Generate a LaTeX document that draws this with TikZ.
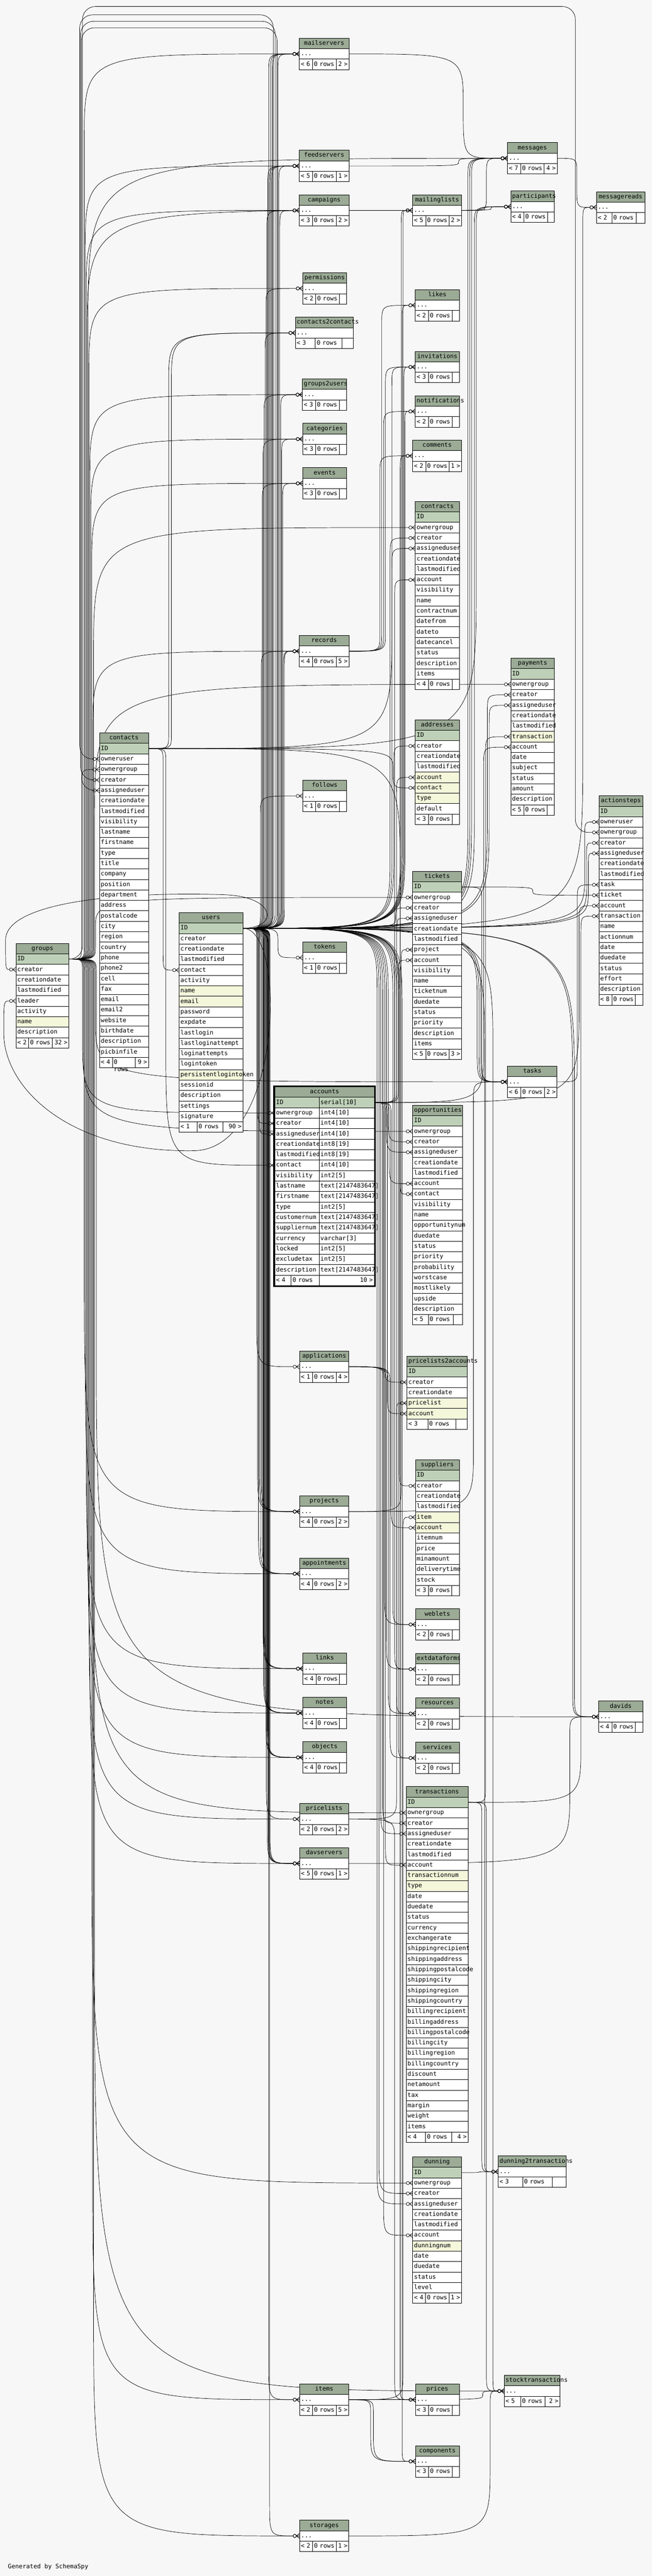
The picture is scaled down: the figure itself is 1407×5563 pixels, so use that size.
\documentclass[tikz,border=0pt]{standalone}
\usepackage{fontspec}
\usepackage{tikz}
\usetikzlibrary{positioning,calc,arrows.meta}

\newfontfamily\dbfont{DejaVu Sans Mono}
\newcommand\dbfnt{\dbfont\fontsize{13.1pt}{15pt}\selectfont}
\definecolor{bgc}{HTML}{F7F7F7}
\definecolor{headc}{HTML}{9BAB96}
\definecolor{pkc}{HTML}{BED1B8}
\definecolor{idxc}{HTML}{F4F7DA}
\def\rowh{22.6}

\pgfdeclarelayer{bgl}
\pgfdeclarelayer{edges}
\pgfsetlayers{bgl,edges,main}

% crow foot with open dot, tip at the table side
\pgfdeclarearrow{
  name = crowodot,
  parameters = {\the\pgfarrowlinewidth},
  setup code = {
    \pgfarrowssettipend{0pt}
    \pgfarrowssetlineend{-14pt}
    \pgfarrowssetbackend{-14pt}
    \pgfarrowshullpoint{0pt}{5pt}
    \pgfarrowshullpoint{0pt}{-5pt}
    \pgfarrowshullpoint{-14pt}{3.5pt}
    \pgfarrowshullpoint{-14pt}{-3.5pt}
  },
  drawing code = {
    \pgfpathmoveto{\pgfpoint{0pt}{5pt}}
    \pgfpathlineto{\pgfpoint{-7pt}{0pt}}
    \pgfpathlineto{\pgfpoint{0pt}{-5pt}}
    \pgfpathmoveto{\pgfpoint{0pt}{0pt}}
    \pgfpathlineto{\pgfpoint{-7pt}{0pt}}
    \pgfpathcircle{\pgfpoint{-10.5pt}{0pt}}{3.5pt}
    \pgfusepathqstroke
  }
}

\tikzset{
  tabcell/.style={draw,fill=white,anchor=north west,minimum height=\rowh pt,inner xsep=3pt,inner ysep=0pt,outer sep=0pt,align=left,font=\dbfnt,line width=0.9pt,text height=9.5pt,text depth=2.5pt},
  tabhead/.style={tabcell,fill=headc,align=center},
  pk/.style={fill=pkc},
  ix/.style={fill=idxc},
  cn/.style={},
  fk/.style={line width=0.8pt,-crowodot}
}

% footer: name, x, y, width, parents, children, cell a, cell b
\newcommand\dbfoot[8]{%
  \pgfmathsetmacro\fwa{#7-6}\pgfmathsetmacro\fwb{#8-6}\pgfmathsetmacro\fwc{#4-#7-#8-6}%
  \node[tabcell,text width=\fwa pt] (#1-prev) at (#2,{#3}) {< #5};
  \node[tabcell,text width=\fwb pt] (#1-rows) at ({#2+#7},{#3}) {0 rows};
  \node[tabcell,text width=\fwc pt,align=right] (#1-next) at ({#2+#7+#8},{#3}) {\ifx\relax#6\relax\else#6 >\fi};}

% full table: name, x, y, width, rows, parents, children, {a}{b}
\newcommand\dbtable[8]{%
  \pgfmathsetmacro\tw{#4-6}%
  \node[tabhead,text width=\tw pt] (#1) at (#2,#3) {#1};
  \foreach \rn/\rs [count=\ri] in {#5}{%
    \node[tabcell,\rs,text width=\tw pt] (#1-\rn) at (#2,{#3+\ri*\rowh}) {\rn};
    \xdef\lastrow{\ri}}%
  \dbfoot{#1}{#2}{#3+(\lastrow+1)*\rowh}{#4}{#6}{#7}#8}

% collapsed table: name, x, y, width, parents, children, {a}{b}
\newcommand\dbmini[7]{%
  \pgfmathsetmacro\tw{#4-6}%
  \node[tabhead,text width=\tw pt] (#1) at (#2,#3) {#1};
  \node[tabcell,text width=\tw pt] (#1-x) at (#2,{#3+\rowh}) {...};
  \dbfoot{#1}{#2}{#3+2*\rowh}{#4}{#5}{#6}#7}

% foreign key: parent row, child row, x of the vertical run
\newcommand\fk[3]{%
  \draw[fk] let \p1=(#1.east), \p2=(#2.west),
    \n1={ifthenelse(\y2>\y1,1,-1)}, \n3={abs(\y2-(\y1))/2},
    \n4={min(max(30,0.5*abs(#3-(\x1))),\n3)},
    \n2={min(max(40,ifthenelse(\y2>\y1,0.4,1.1)*abs(\x2-(#3))),\n3)} in
    (\p1) .. controls (#3pt,\y1) .. (#3pt,{\y1+(\n1)*(\n4)})
    -- (#3pt,{\y2-(\n1)*(\n2)}) .. controls (#3pt,\y2) .. (\p2);}

% foreign key routed over the top: parent, child, x up, y top, x down
\newcommand\fkvia[5]{%
  \draw[fk,rounded corners=28pt] let \p1=(#1.east), \p2=(#2.west) in
    (\p1) -- (#3pt,\y1) -- (#3pt,-#4pt) -- (#5pt,-#4pt) -- (#5pt,\y2) -- (\p2);}

\begin{document}
\begin{tikzpicture}[x=1pt,y=-1pt]
\useasboundingbox (0,0) rectangle (1407,5563);
\begin{pgfonlayer}{bgl}
  \fill[bgc] (0,0) rectangle (1407,5563);
\end{pgfonlayer}

% left side
\dbtable{groups}{34.4}{2037.3}{114.3}{ID/pk,creator/cn,creationdate/cn,lastmodified/cn,leader/cn,activity/cn,name/ix,description/cn}{2}{32}{{27.6}{51}}
\dbtable{contacts}{214.7}{1582.7}{105.8}{ID/pk,owneruser/cn,ownergroup/cn,creator/cn,assigneduser/cn,creationdate/cn,lastmodified/cn,visibility/cn,lastname/cn,firstname/cn,type/cn,title/cn,company/cn,position/cn,department/cn,address/cn,postalcode/cn,city/cn,region/cn,country/cn,phone/cn,phone2/cn,cell/cn,fax/cn,email/cn,email2/cn,website/cn,birthdate/cn,description/cn,picbinfile/cn}{4}{9}{{28}{49.6}}
\dbtable{users}{386.6}{1970.7}{137.9}{ID/pk,creator/cn,creationdate/cn,lastmodified/cn,contact/cn,activity/cn,name/ix,email/ix,password/cn,expdate/cn,lastlogin/cn,lastloginattempt/cn,loginattempts/cn,logintoken/cn,persistentlogintoken/ix,sessionid/cn,description/cn,settings/cn,signature/cn}{1}{90}{{38.8}{55.8}}

% accounts
\node[tabhead,text width=209pt] (accounts) at (593,2347) {accounts};
\foreach \rn/\rt/\rs [count=\ri] in {ID/serial[10]/pk,ownergroup/int4[10]/cn,creator/int4[10]/cn,assigneduser/int4[10]/cn,creationdate/int8[19]/cn,lastmodified/int8[19]/cn,contact/int4[10]/cn,visibility/int2[5]/cn,lastname/text[2147483647]/cn,firstname/text[2147483647]/cn,type/int2[5]/cn,customernum/text[2147483647]/cn,suppliernum/text[2147483647]/cn,currency/varchar[3]/cn,locked/int2[5]/cn,excludetax/int2[5]/cn,description/text[2147483647]/cn}{%
  \node[tabcell,\rs,text width=89.7pt] (accounts-\rn) at (593,{2347+\ri*\rowh}) {\rn};
  \node[tabcell,\rs,text width=113.3pt] (accounts-\rn-t) at (688.7,{2347+\ri*\rowh}) {\rt};}
\dbfoot{accounts}{593}{2347+18*\rowh}{215}{4}{10}{35.4}{60.3}
\draw[line width=3pt] ([xshift=-1.5pt,yshift=1.5pt]accounts.north west) rectangle ([xshift=1.5pt,yshift=-1.5pt]accounts-next.south east);

% first column
\dbmini{mailservers}{646.2}{82.6}{107.1}{6}{2}{{28.4}{50.8}}
\dbmini{feedservers}{646.2}{324.5}{107.1}{5}{1}{{28.4}{50.8}}
\dbmini{campaigns}{646.2}{420.5}{107.1}{3}{2}{{28.4}{50.8}}
\dbmini{permissions}{653.3}{589}{95.1}{2}{}{{28.4}{50.8}}
\dbmini{contacts2contacts}{637.5}{685}{125.1}{3}{}{{43.2}{57.9}}
\dbmini{groups2users}{652.8}{818.4}{95.6}{3}{}{{28.4}{50.8}}
\dbmini{categories}{653.3}{914.3}{95.1}{3}{}{{28.4}{50.8}}
\dbmini{events}{653.3}{1010}{95.1}{3}{}{{28.4}{50.8}}
\dbmini{records}{646.2}{1372.4}{107.1}{4}{5}{{28.4}{50.8}}
\dbmini{follows}{653.3}{1685}{95.1}{1}{}{{28.4}{50.8}}
\dbmini{tokens}{653.3}{2034.3}{95.1}{1}{}{{28.4}{50.8}}
\dbmini{applications}{646.7}{2917.6}{106.4}{1}{4}{{28.4}{50.8}}
\dbmini{projects}{646.7}{3230.4}{106.4}{4}{2}{{28.4}{50.8}}
\dbmini{appointments}{646.7}{3364.7}{106.4}{4}{2}{{28.4}{50.8}}
\dbmini{links}{653.8}{3569.6}{94.6}{4}{}{{28.4}{50.8}}
\dbmini{notes}{653.8}{3665.5}{94.6}{4}{}{{28.4}{50.8}}
\dbmini{objects}{653.8}{3761.3}{94.6}{4}{}{{28.4}{50.8}}
\dbmini{pricelists}{646.7}{3894.5}{106.4}{2}{2}{{28.4}{50.8}}
\dbmini{davservers}{646.7}{3990.3}{106.4}{5}{1}{{28.4}{50.8}}
\dbmini{items}{646.7}{5148.3}{106.4}{2}{5}{{28.4}{50.8}}
\dbmini{storages}{646.7}{5442.5}{106.4}{2}{1}{{28.4}{50.8}}

% second column
\dbmini{mailinglists}{890.5}{420.5}{106.1}{5}{2}{{28.4}{50.8}}
\dbmini{likes}{896.5}{625.4}{95.2}{2}{}{{28.4}{50.8}}
\dbmini{invitations}{896.5}{758.7}{95.2}{3}{}{{28.4}{50.8}}
\dbmini{notifications}{896.5}{854.6}{95.2}{2}{}{{28.4}{50.8}}
\dbmini{comments}{890.5}{950.5}{106.1}{2}{1}{{28.4}{50.8}}
\dbtable{contracts}{896.5}{1082.7}{95.2}{ID/pk,ownergroup/cn,creator/cn,assigneduser/cn,creationdate/cn,lastmodified/cn,account/cn,visibility/cn,name/cn,contractnum/cn,datefrom/cn,dateto/cn,datecancel/cn,status/cn,description/cn,items/cn}{4}{}{{28.4}{50.8}}
\dbtable{addresses}{896.5}{1554.5}{95.2}{ID/pk,creator/cn,creationdate/cn,lastmodified/cn,account/ix,contact/ix,type/ix,default/cn}{3}{}{{28.4}{50.8}}
\dbtable{tickets}{890.5}{1881.6}{106.1}{ID/pk,ownergroup/cn,creator/cn,assigneduser/cn,creationdate/cn,lastmodified/cn,project/cn,account/cn,visibility/cn,name/cn,ticketnum/cn,duedate/cn,status/cn,priority/cn,description/cn,items/cn}{5}{3}{{28.4}{50.3}}
\dbtable{opportunities}{890.9}{2386.7}{107.6}{ID/pk,ownergroup/cn,creator/cn,assigneduser/cn,creationdate/cn,lastmodified/cn,account/cn,contact/cn,visibility/cn,name/cn,opportunitynum/cn,duedate/cn,status/cn,priority/cn,probability/cn,worstcase/cn,mostlikely/cn,upside/cn,description/cn}{5}{}{{33.7}{53.8}}
\dbtable{pricelists2accounts}{878.5}{2928.5}{129.5}{ID/pk,creator/cn,creationdate/cn,pricelist/ix,account/ix}{3}{}{{44.9}{60.3}}
\dbtable{suppliers}{896.8}{3152.3}{94.6}{ID/pk,creator/cn,creationdate/cn,lastmodified/cn,item/ix,account/ix,itemnum/cn,price/cn,minamount/cn,deliverytime/cn,stock/cn}{3}{}{{27.8}{50.8}}
\dbmini{weblets}{896.8}{3474.3}{94.6}{2}{}{{28.4}{50.8}}
\dbmini{extdataforms}{896.8}{3570.7}{94.6}{2}{}{{28.4}{50.8}}
\dbmini{resources}{896.8}{3666.6}{94.6}{2}{}{{28.4}{50.8}}
\dbmini{services}{896.8}{3762.5}{94.6}{2}{}{{28.4}{50.8}}
\dbtable{transactions}{876.7}{3858.3}{133.6}{ID/pk,ownergroup/cn,creator/cn,assigneduser/cn,creationdate/cn,lastmodified/cn,account/cn,transactionnum/ix,type/ix,date/cn,duedate/cn,status/cn,currency/cn,exchangerate/cn,shippingrecipient/cn,shippingaddress/cn,shippingpostalcode/cn,shippingcity/cn,shippingregion/cn,shippingcountry/cn,billingrecipient/cn,billingaddress/cn,billingpostalcode/cn,billingcity/cn,billingregion/cn,billingcountry/cn,discount/cn,netamount/cn,tax/cn,margin/cn,weight/cn,items/cn}{4}{4}{{42}{56.8}}
\dbtable{dunning}{890.9}{4657.8}{105.2}{ID/pk,ownergroup/cn,creator/cn,assigneduser/cn,creationdate/cn,lastmodified/cn,account/cn,dunningnum/ix,date/cn,duedate/cn,status/cn,level/cn}{4}{1}{{27.8}{50.3}}
\dbmini{prices}{896.8}{5148.3}{94.6}{3}{}{{28.4}{50.8}}
\dbmini{components}{896.8}{5281.5}{94.6}{3}{}{{28.4}{50.8}}

% third and fourth column
\dbmini{messages}{1095.5}{308}{107.1}{7}{4}{{28.4}{50.8}}
\dbmini{participants}{1102.6}{412.5}{94}{4}{}{{28.4}{50.8}}
\dbtable{payments}{1102.6}{1421.4}{94}{ID/pk,ownergroup/cn,creator/cn,assigneduser/cn,creationdate/cn,lastmodified/cn,transaction/ix,account/cn,date/cn,subject/cn,status/cn,amount/cn,description/cn}{5}{}{{28}{50.8}}
\dbmini{tasks}{1095.5}{2302.4}{107}{6}{2}{{29}{50.3}}
\dbmini{dunning2transactions}{1075.3}{4656}{147.2}{3}{}{{53.2}{63.9}}
\dbmini{stocktransactions}{1088.3}{5129.6}{120.1}{5}{2}{{35.5}{53.2}}
\dbmini{messagereads}{1287.4}{414}{104.4}{2}{}{{33.3}{53}}
\dbtable{actionsteps}{1292.8}{1718.6}{94.6}{ID/pk,owneruser/cn,ownergroup/cn,creator/cn,assigneduser/cn,creationdate/cn,lastmodified/cn,task/cn,ticket/cn,account/cn,transaction/cn,name/cn,actionnum/cn,date/cn,duedate/cn,status/cn,effort/cn,description/cn}{8}{}{{28}{50.8}}
\dbmini{davids}{1292.3}{3673.5}{95.2}{4}{}{{28.4}{50.8}}

\node[anchor=west,font=\dbfnt,inner sep=0pt] (credit) at (17,5543) {Generated by SchemaSpy};

\begin{pgfonlayer}{edges}
% groups
\fk{groups-ID}{contacts-ownergroup}{176}
\fk{groups-ID}{accounts-ownergroup}{178}
\fk{groups-ID}{mailservers-x}{182}
\fk{groups-ID}{feedservers-x}{184}
\fk{groups-ID}{campaigns-x}{186}
\fk{groups-ID}{mailinglists-x}{188}
\fk{groups-ID}{messages-x}{190}
\fk{groups-ID}{permissions-x}{192}
\fk{groups-ID}{groups2users-x}{194}
\fk{groups-ID}{categories-x}{196}
\fk{groups-ID}{events-x}{198}
\fk{groups-ID}{records-x}{200}
\fk{groups-ID}{contracts-ownergroup}{202}
\fk{groups-ID}{payments-ownergroup}{204}
\fk{groups-ID}{tickets-ownergroup}{206}
\fk{groups-ID}{opportunities-ownergroup}{180}
\fk{groups-ID}{projects-x}{182}
\fk{groups-ID}{appointments-x}{184}
\fk{groups-ID}{links-x}{186}
\fk{groups-ID}{notes-x}{188}
\fk{groups-ID}{objects-x}{190}
\fk{groups-ID}{pricelists-x}{192}
\fk{groups-ID}{davservers-x}{194}
\fk{groups-ID}{transactions-ownergroup}{196}
\fk{groups-ID}{dunning-ownergroup}{198}
\fk{groups-ID}{items-x}{200}
\fk{groups-ID}{storages-x}{202}
\fk{groups-ID}{stocktransactions-x}{204}
\fk{groups-ID}{tasks-x}{206}
\fk{groups-ID}{davids-x}{208}
\fkvia{groups-ID}{actionsteps-ownergroup}{178}{14}{1242}
% users
\fkvia{users-ID}{contacts-owneruser}{590}{32}{172}
\fkvia{users-ID}{contacts-creator}{594}{46}{174}
\fkvia{users-ID}{contacts-assigneduser}{598}{60}{176}
\draw[fk] (users-ID.east) .. controls (600,2004.6) and (600,1935) .. (480,1932)
  .. controls (250,1925) and (12,1950) .. (12,2030) .. controls (12,2093.8) .. (groups-creator.west);
\draw[fk] (users-ID.east) .. controls (620,2004.6) and (610,2480) .. (420,2485)
  .. controls (150,2490) and (8,2350) .. (8,2230) .. controls (8,2161.6) .. (groups-leader.west);
\fk{users-ID}{accounts-creator}{556}
\fk{users-ID}{accounts-assigneduser}{560}
\fk{users-ID}{contracts-creator}{842}
\fk{users-ID}{contracts-assigneduser}{846}
\fk{users-ID}{addresses-creator}{850}
\fk{users-ID}{tickets-creator}{854}
\fk{users-ID}{tickets-assigneduser}{858}
\fk{users-ID}{opportunities-creator}{838}
\fk{users-ID}{opportunities-assigneduser}{834}
\fk{users-ID}{pricelists2accounts-creator}{830}
\fk{users-ID}{suppliers-creator}{862}
\fk{users-ID}{transactions-creator}{826}
\fk{users-ID}{transactions-assigneduser}{822}
\fk{users-ID}{dunning-creator}{818}
\fk{users-ID}{dunning-assigneduser}{814}
\fk{users-ID}{payments-creator}{1052}
\fk{users-ID}{payments-assigneduser}{1056}
\fk{users-ID}{actionsteps-owneruser}{1262}
\fk{users-ID}{actionsteps-creator}{1266}
\fk{users-ID}{actionsteps-assigneduser}{1270}
\fk{users-ID}{mailservers-x}{580}
\fk{users-ID}{mailservers-x}{584}
\fk{users-ID}{mailservers-x}{588}
\fk{users-ID}{mailservers-x}{600}
\fk{users-ID}{feedservers-x}{578}
\fk{users-ID}{feedservers-x}{582}
\fk{users-ID}{feedservers-x}{586}
\fk{users-ID}{feedservers-x}{602}
\fk{users-ID}{campaigns-x}{576}
\fk{users-ID}{campaigns-x}{604}
\fk{users-ID}{permissions-x}{574}
\fk{users-ID}{contacts2contacts-x}{572}
\fk{users-ID}{groups2users-x}{570}
\fk{users-ID}{groups2users-x}{606}
\fk{users-ID}{categories-x}{568}
\fk{users-ID}{categories-x}{608}
\fk{users-ID}{events-x}{566}
\fk{users-ID}{events-x}{610}
\fk{users-ID}{records-x}{564}
\fk{users-ID}{records-x}{612}
\fk{users-ID}{records-x}{614}
\fk{users-ID}{follows-x}{562}
\fk{users-ID}{tokens-x}{600}
\fk{users-ID}{mailinglists-x}{866}
\fk{users-ID}{mailinglists-x}{870}
\fk{users-ID}{likes-x}{868}
\fk{users-ID}{invitations-x}{872}
\fk{users-ID}{notifications-x}{874}
\fk{users-ID}{comments-x}{864}
\fk{users-ID}{messages-x}{1010}
\fk{users-ID}{messages-x}{1014}
\fk{users-ID}{messages-x}{1018}
\fk{users-ID}{participants-x}{1024}
\fk{users-ID}{messagereads-x}{1258}
\fk{users-ID}{tasks-x}{1030}
\fk{users-ID}{tasks-x}{1034}
\fk{users-ID}{tasks-x}{1038}
\fk{users-ID}{applications-x}{554}
\fk{users-ID}{projects-x}{556}
\fk{users-ID}{projects-x}{560}
\fk{users-ID}{projects-x}{564}
\fk{users-ID}{appointments-x}{558}
\fk{users-ID}{appointments-x}{562}
\fk{users-ID}{appointments-x}{566}
\fk{users-ID}{links-x}{568}
\fk{users-ID}{links-x}{570}
\fk{users-ID}{links-x}{572}
\fk{users-ID}{notes-x}{569}
\fk{users-ID}{notes-x}{571}
\fk{users-ID}{notes-x}{573}
\fk{users-ID}{objects-x}{574}
\fk{users-ID}{objects-x}{576}
\fk{users-ID}{objects-x}{578}
\fk{users-ID}{pricelists-x}{575}
\fk{users-ID}{davservers-x}{577}
\fk{users-ID}{davservers-x}{579}
\fk{users-ID}{davservers-x}{581}
\fk{users-ID}{davservers-x}{583}
\fk{users-ID}{items-x}{580}
\fk{users-ID}{storages-x}{582}
\fk{users-ID}{davids-x}{1236}
\fk{users-ID}{davids-x}{1240}
\fk{users-ID}{weblets-x}{848}
\fk{users-ID}{extdataforms-x}{852}
\fk{users-ID}{resources-x}{856}
\fk{users-ID}{services-x}{860}
\fk{users-ID}{prices-x}{864}
\fk{users-ID}{components-x}{868}
\fk{users-ID}{stocktransactions-x}{1064}
\fk{users-ID}{dunning2transactions-x}{1046}
% accounts
\fk{accounts-ID-t}{contracts-account}{852}
\fk{accounts-ID-t}{addresses-account}{856}
\fk{accounts-ID-t}{tickets-account}{860}
\fk{accounts-ID-t}{opportunities-account}{840}
\fk{accounts-ID-t}{pricelists2accounts-account}{836}
\fk{accounts-ID-t}{suppliers-account}{844}
\fk{accounts-ID-t}{transactions-account}{832}
\fk{accounts-ID-t}{dunning-account}{828}
\fk{accounts-ID-t}{payments-account}{1044}
\fk{accounts-ID-t}{actionsteps-account}{1250}
% contacts
\fk{contacts-ID}{users-contact}{352}
\fk{contacts-ID}{accounts-contact}{358}
\fk{contacts-ID}{addresses-contact}{848}
\fk{contacts-ID}{opportunities-contact}{864}
\fk{contacts-ID}{contacts2contacts-x}{364}
\fk{contacts-ID}{contacts2contacts-x}{370}
\fk{contacts-ID}{participants-x}{1028}
\fk{contacts-ID}{invitations-x}{846}
% others
\fk{transactions-ID}{payments-transaction}{1048}
\fk{transactions-ID}{actionsteps-transaction}{1254}
\fk{transactions-ID}{dunning2transactions-x}{1040}
\fk{transactions-ID}{stocktransactions-x}{1050}
\fk{tickets-ID}{actionsteps-ticket}{1150}
\fk{tickets-ID}{tasks-x}{1040}
\fk{tasks-x}{actionsteps-task}{1246}
\fk{dunning-ID}{dunning2transactions-x}{1034}
\fk{projects-x}{tickets-project}{866}
\fk{projects-x}{tasks-x}{1022}
\fk{items-x}{suppliers-item}{870}
\fk{items-x}{prices-x}{820}
\fk{items-x}{components-x}{800}
\fk{items-x}{components-x}{806}
\fk{items-x}{stocktransactions-x}{1042}
\fk{pricelists-x}{pricelists2accounts-pricelist}{856}
\fk{pricelists-x}{prices-x}{852}
\fk{storages-x}{stocktransactions-x}{1058}
\fk{davservers-x}{davids-x}{1230}
\fk{mailservers-x}{messages-x}{1000}
\fk{feedservers-x}{messages-x}{990}
\fk{mailinglists-x}{messages-x}{1050}
\fk{mailinglists-x}{participants-x}{1046}
\fk{campaigns-x}{mailinglists-x}{820}
\fk{campaigns-x}{participants-x}{1060}
\fk{messages-x}{messagereads-x}{1245}
\fk{records-x}{comments-x}{820}
\fk{records-x}{likes-x}{824}
\fk{records-x}{notifications-x}{828}
\fk{records-x}{invitations-x}{832}
\fk{applications-x}{weblets-x}{830}
\fk{applications-x}{extdataforms-x}{834}
\fk{applications-x}{resources-x}{838}
\fk{applications-x}{services-x}{842}
\end{pgfonlayer}
\end{tikzpicture}
\end{document}
